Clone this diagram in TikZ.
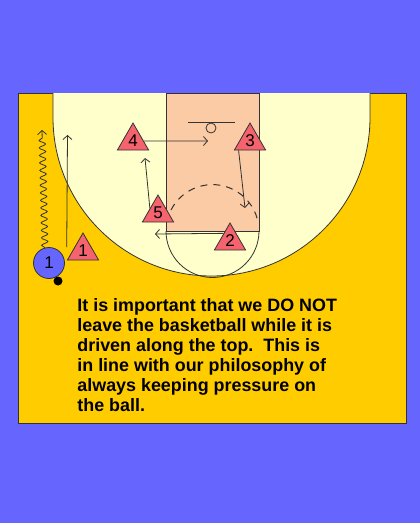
\documentclass[tikz,border=0pt]{standalone}
\usepackage{fontspec}
\setmainfont{Liberation Sans}
\usetikzlibrary{calc, shapes.geometric, decorations.pathmorphing, arrows.meta}
\definecolor{bgBlue}{HTML}{6666FF}
\definecolor{courtYellow}{HTML}{FFCC00}
\definecolor{courtCream}{HTML}{FFFFCC}
\definecolor{paintPeach}{HTML}{FACBA4}
\definecolor{playerRed}{HTML}{F4636E}
\definecolor{lineGray}{HTML}{333333}

\begin{document}
\begin{tikzpicture}[x=1pt, y=-1pt, line width=0.8pt,
    defender/.style={regular polygon, regular polygon sides=3, draw=lineGray, fill=playerRed,
        minimum size=36pt, inner sep=0pt, font=\fontsize{17}{17}\selectfont},
    cut/.style={-{Straight Barb[length=4pt, width=9pt]}, lineGray}]
    % background and court
    \fill[bgBlue] (0,0) rectangle (420,523);
    \draw[lineGray, fill=courtYellow] (18,93) rectangle (406,423);
    \draw[lineGray, fill=courtCream] (53,93) -- (53,117.5) arc[start angle=180, end angle=0, radius=158.5] -- (370,93);
    \draw[lineGray, fill=paintPeach] (166,93) rectangle (259,231);
    \draw[lineGray] (166,231) arc[start angle=180, end angle=0, radius=46.5];
    \draw[lineGray, dashed, line width=1pt, dash pattern=on 7pt off 6pt] (171,210) arc[start angle=207, end angle=346, radius=46.5];
    \draw[lineGray] (188,122) -- (235,122);
    \node[circle, draw=lineGray, minimum size=10pt, inner sep=0pt] (rim) at (211,128) {};

    % players
    \node[defender] (t4) at (133,141) {4};
    \node[defender] (t3) at (250,141) {3};
    \node[defender] (t5) at (158,213) {5};
    \node[defender] (t2) at (230,241) {2};
    \node[defender] (t1) at (83,251) {1};
    \node[circle, draw=lineGray, fill=bgBlue, minimum size=31pt, inner sep=0pt,
        font=\fontsize{17}{17}\selectfont] (p1) at (49,263) {1};
    \node[circle, fill=black, minimum size=9pt, inner sep=0pt] (ball) at (58,281) {};

    % movement
    \coordinate (d1) at (42,130);
    \coordinate (c1) at (67.5,135);
    \coordinate (c4) at (208,141);
    \coordinate (c3) at (245,208);
    \coordinate (c5) at (145,158);
    \coordinate (c2) at (155,234);
    \draw[cut, decorate, decoration={snake, amplitude=3.2pt, segment length=7.5pt, post length=5pt}]
        (p1.105) -- (d1);
    \draw[cut] (t1.corner 2 |- p1.north) -- (c1);
    \draw[cut] (t4.east) -- (c4);
    \draw[cut] ($(t3.corner 2)!0.15!(t3.corner 3)$) -- (c3);
    \draw[cut] (t5.150) -- (c5);
    \draw[cut] (t2.130) -- (c2);

    \node[anchor=north west, align=left, inner sep=0pt,
        font=\bfseries\fontsize{17.9}{20}\selectfont] (note) at (77,298)
        {It is important that we DO NOT\\
         leave the basketball while it is\\
         driven along the top.\ \ This is\\
         in line with our philosophy of\\
         always keeping pressure on\\
         the ball.};
\end{tikzpicture}
\end{document}
